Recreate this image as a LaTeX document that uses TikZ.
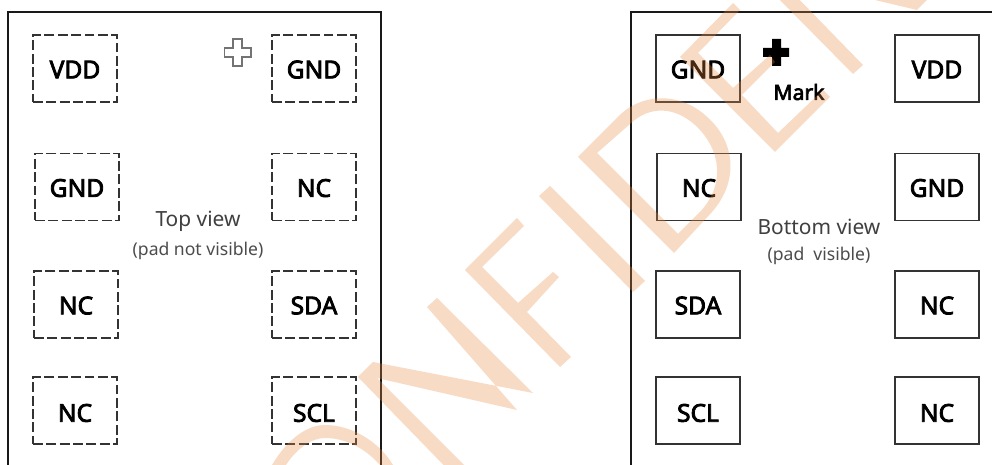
\documentclass[tikz,border=0pt]{standalone}
\usepackage{fontspec}
\setmainfont{Noto Sans}
\newfontfamily\padfont[FakeBold=3.2]{Noto Sans}
\definecolor{wmorange}{RGB}{235,138,65}
\newcommand{\padtext}[2][-5.6pt]{\raisebox{#1}[0pt][0pt]{#2}}
\tikzset{
  pad/.style={draw=black!80,line width=1pt,minimum width=1.68cm,minimum height=1.34cm,inner sep=0pt,font=\fontsize{14}{15}\padfont},
  padtop/.style={pad,dash pattern=on 5.6pt off 2pt},
  frame/.style={draw=black!90,line width=1.2pt},
  wmark/.style={fill=wmorange,fill opacity=0.3},
  viewname/.style={text=black!75,font=\fontsize{11.9}{14}\selectfont},
  viewnote/.style={text=black!70,font=\fontsize{10}{12}\selectfont}
}
\begin{document}
\begin{tikzpicture}[x=0.02cm,y=-0.02cm]
  \useasboundingbox (0,0) rectangle (992,465);
  \clip (0,0) rectangle (992,465);
  \fill[white] (0,0) rectangle (992,465);

  % outlines
  \draw[frame] (8,480) -- (8,12) -- (381,12) -- (381,480);
  \draw[frame] (631,480) -- (631,12) -- (1000,12);

  % top view
  \path (75,68.5) node[padtop] (tvdd) {\padtext{VDD}};
  \path (314,68.5) node[padtop] (tgndb) {\padtext{GND}};
  \path (77,187) node[padtop] (tgnd) {\padtext{GND}};
  \path (314,187) node[padtop] (tncb) {\padtext{NC}};
  \path (76,304.5) node[padtop] (tnca) {\padtext{NC}};
  \path (314,304.5) node[padtop] (tsda) {\padtext{SDA}};
  \path (75,410.5) node[padtop] (tncc) {\padtext[-6.4pt]{NC}};
  \path (314,410.5) node[padtop] (tscl) {\padtext[-6.4pt]{SCL}};

  % bottom view
  \path (698,68.5) node[pad] (bgnd) {\padtext{GND}};
  \path (937,68.5) node[pad] (bvdd) {\padtext{VDD}};
  \path (699,187) node[pad] (bnc) {\padtext{NC}};
  \path (937,187) node[pad] (bgndb) {\padtext{GND}};
  \path (698,304.5) node[pad] (bsda) {\padtext{SDA}};
  \path (937,304.5) node[pad] (bncb) {\padtext{NC}};
  \path (698,410.5) node[pad] (bscl) {\padtext[-6.4pt]{SCL}};
  \path (937,410.5) node[pad] (bncc) {\padtext[-6.4pt]{NC}};

  \path (198,221) node[viewname] (topname) {Top view};
  \path (198,251) node[viewnote] (topnote) {(pad not visible)};
  \path (819,227) node[viewname] (botname) {Bottom view};
  \path (819,256) node[viewnote] (botnote) {(pad\ \ visible)};
  \path (799,92) node[font=\fontsize{12}{13}\padfont] (mark) {Mark};

  % plus marks
  \draw[black!55,line width=0.6pt] (233,39) -- (242,39) -- (242,48) -- (251,48) -- (251,57) -- (242,57) -- (242,66) -- (233,66) -- (233,57) -- (224.5,57) -- (224.5,48) -- (233,48) -- cycle;
  \fill[black] (772,39) -- (781,39) -- (781,48) -- (789,48) -- (789,57) -- (781,57) -- (781,66) -- (772,66) -- (772,57) -- (763,57) -- (763,48) -- (772,48) -- cycle;

  % watermark
  \fill[wmark] (272,465) .. controls (290,435) and (310,425) .. (325,425) .. controls (350,425) and (378,440) .. (393,465) -- (380,465) .. controls (365,448) and (345,438) .. (325,438) .. controls (312,438) and (297,448) .. (286,465) -- cycle;
  \fill[wmark] (358,377) -- (373,362) -- (533,393) -- (437,298) -- (427,307) -- (517,410) -- (377,378) -- (483,484) -- (462,484) -- cycle;
  \fill[wmark] (465,270) -- (517,218) -- (524,226) -- (482,267) -- (518,303) -- (553,272) -- (559,277) -- (527,312) -- (571,357) -- (560,367) -- cycle;
  \fill[wmark] (539,196) -- (550,186) -- (645,281) -- (633,292) -- cycle;
  \fill[wmark] (578,157) -- (622,113) .. controls (645,93) and (680,93) .. (705,115) .. controls (735,140) and (740,180) .. (712,212) -- (674,253) -- cycle
    (678,234) -- (700,212) .. controls (725,185) and (722,150) .. (695,125) .. controls (675,107) and (650,105) .. (630,124) -- (597,153) -- cycle;
  \fill[wmark] (680,57) -- (733,3) -- (740,10) -- (698,53) -- (733,88) -- (770,55) -- (775,62) -- (742,95) -- (778,133) -- (823,90) -- (830,97) -- (775,152) -- cycle;
  \fill[wmark] (770,-10) -- (790,-10) -- (863,65) -- (853,74) -- cycle;
  \fill[wmark] (875,0) -- (917,10) -- (927,0) -- cycle;
\end{tikzpicture}
\end{document}
